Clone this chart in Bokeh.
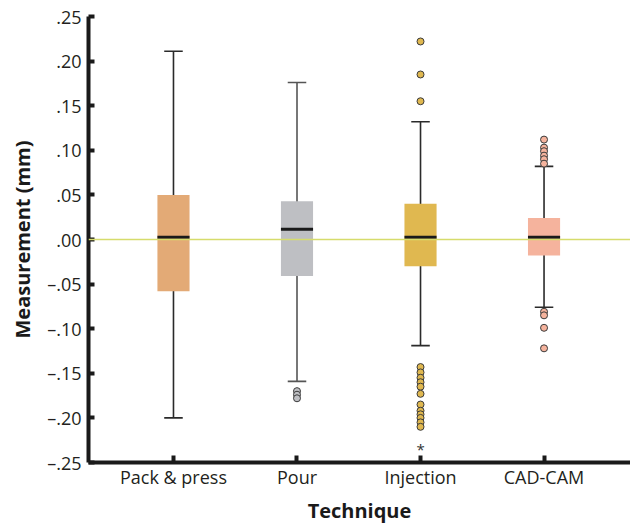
from bokeh.plotting import figure
from bokeh.models import Range1d, FixedTicker, Span, ColumnDataSource
from bokeh.core.properties import value
from bokeh.embed import file_html
from bokeh.resources import INLINE

# ---------------- data ----------------
categories = ["Pack & press", "Pour", "Injection", "CAD-CAM"]
box_colors = ["#E3AA76", "#BEBFC3", "#E0B850", "#F5B39D"]
whisker_colors = ["#2a2a2a", "#555555", "#2a2a2a", "#2a2a2a"]
lower_whisker = [-0.200, -0.159, -0.119, -0.076]
q1 = [-0.058, -0.041, -0.030, -0.018]
median = [0.0025, 0.0115, 0.0025, 0.0025]
q3 = [0.050, 0.043, 0.040, 0.024]
upper_whisker = [0.211, 0.176, 0.132, 0.082]

outliers = {
    "Pack & press": [],
    "Pour": [-0.170, -0.174, -0.178],
    "Injection": [0.222, 0.185, 0.155,
                  -0.143, -0.149, -0.155, -0.160, -0.165, -0.173,
                  -0.185, -0.192, -0.196, -0.200, -0.205, -0.210],
    "CAD-CAM": [0.112, 0.103, 0.099, 0.094, 0.090, 0.085,
                -0.081, -0.085, -0.099, -0.122],
}
extremes = {"Injection": [-0.235]}

y_ticks = [0.25, 0.20, 0.15, 0.10, 0.05, 0.00, -0.05, -0.10, -0.15, -0.20, -0.25]
y_tick_labels = [".25", ".20", ".15", ".10", ".05", ".00",
                 "\u2013.05", "\u2013.10", "\u2013.15", "\u2013.20", "\u2013.25"]

FONT = "Open Sans"
BOX_W = 0.26
CAP_W = 0.15

xs = [i + 1 for i in range(len(categories))]

p = figure(width=630, height=526, output_backend="svg", toolbar_location=None,
           x_range=Range1d(0.312, 4.70), y_range=Range1d(-0.25, 0.25),
           min_border_left=88, min_border_right=0, min_border_top=16,
           min_border_bottom=64)
p.background_fill_color = "white"
p.border_fill_color = "white"
p.outline_line_color = None
p.xgrid.visible = False
p.ygrid.visible = False

src = ColumnDataSource(dict(
    x=xs, q1=q1, q3=q3, med=median, lo=lower_whisker, hi=upper_whisker,
    color=box_colors, wcolor=whisker_colors,
    cl=[x - CAP_W / 2 for x in xs], cr=[x + CAP_W / 2 for x in xs],
    ml=[x - BOX_W / 2 for x in xs], mr=[x + BOX_W / 2 for x in xs],
))

# whisker stems
p.segment(x0="x", y0="lo", x1="x", y1="hi", source=src, line_color="wcolor", line_width=1.6)
# caps
p.segment(x0="cl", y0="hi", x1="cr", y1="hi", source=src, line_color="wcolor", line_width=1.6)
p.segment(x0="cl", y0="lo", x1="cr", y1="lo", source=src, line_color="wcolor", line_width=1.6)
# boxes
p.vbar(x="x", width=BOX_W, bottom="q1", top="q3", source=src, fill_color="color", line_color=None)
# medians
p.segment(x0="ml", y0="med", x1="mr", y1="med", source=src, line_color="#1a1a1a", line_width=3)

# outliers
for i, c in enumerate(categories):
    ys = outliers[c]
    if ys:
        p.scatter([xs[i]] * len(ys), ys, size=7, fill_color=box_colors[i],
                  line_color="#3a3a3a", line_width=1)
    ex = extremes.get(c, [])
    if ex:
        p.text([xs[i]] * len(ex), ex, text=["*"] * len(ex), text_align="center",
               text_baseline="middle", text_font=value(FONT), text_font_size="15px",
               text_color="#333333")

# zero reference line
p.add_layout(Span(location=0, dimension="width", line_color="#D6DC6C", line_width=1.5))

# axes
for ax in (p.xaxis[0], p.yaxis[0]):
    ax.axis_line_width = 4
    ax.axis_line_color = "#1a1a1a"
    ax.major_tick_line_width = 4
    ax.major_tick_line_color = "#1a1a1a"
    ax.major_tick_out = 0
    ax.major_tick_in = 6
    ax.minor_tick_line_color = None
    ax.major_label_text_font = FONT
    ax.major_label_text_font_size = "18px"
    ax.major_label_text_color = "#231f20"
    ax.axis_label_text_font = FONT
    ax.axis_label_text_font_style = "bold"
    ax.axis_label_text_font_size = "20px"
    ax.axis_label_text_color = "#1a1a1a"

p.yaxis.ticker = FixedTicker(ticks=y_ticks)
p.yaxis.major_label_overrides = {t: l for t, l in zip(y_ticks, y_tick_labels)}
p.yaxis.axis_label = "Measurement (mm)"
p.yaxis.major_label_standoff = 7
p.yaxis.axis_label_standoff = 8

p.xaxis.ticker = FixedTicker(ticks=xs)
p.xaxis.major_label_overrides = {x: c for x, c in zip(xs, categories)}
p.xaxis.axis_label = "Technique"
p.xaxis.major_label_standoff = 2
p.xaxis.axis_label_standoff = 5
p.xaxis.major_tick_in = 7

open("out.html", "w").write(file_html(p, INLINE))
